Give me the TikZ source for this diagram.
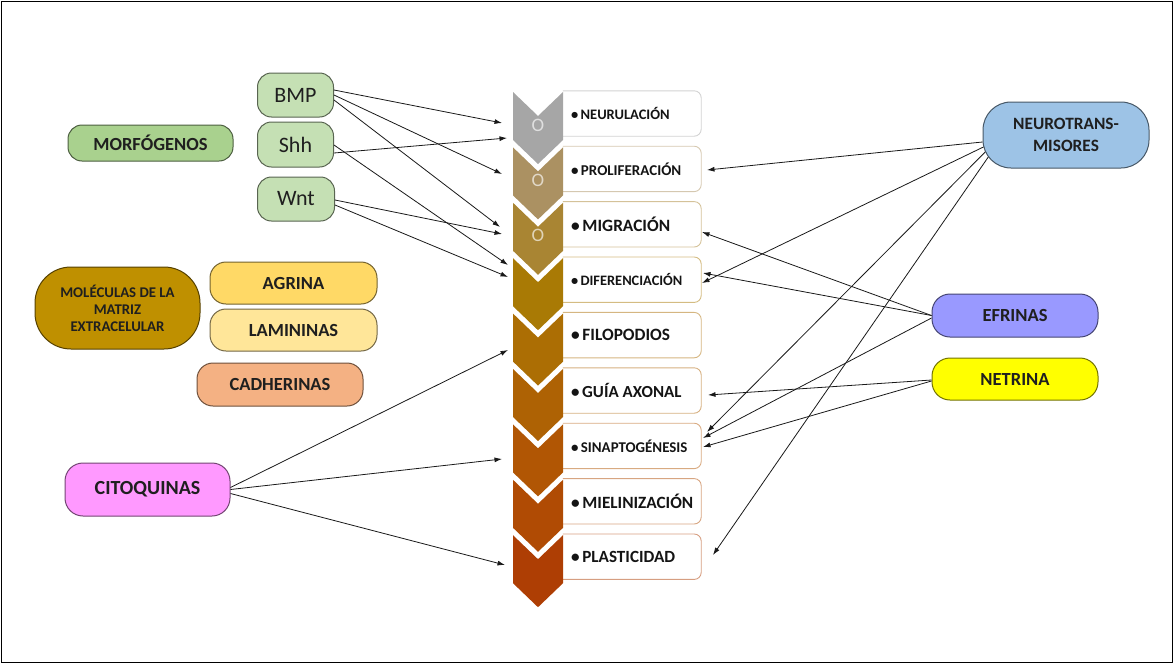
\documentclass[tikz,border=0pt]{standalone}
\usepackage{fontspec}
\setmainfont{Carlito}
\usetikzlibrary{arrows.meta,calc}

% stage colours, grey through gold to rust
\definecolor{c0}{HTML}{A6A6A6}
\definecolor{c1}{HTML}{AB9162}
\definecolor{c2}{HTML}{A98533}
\definecolor{c3}{HTML}{A97A05}
\definecolor{c4}{HTML}{AC6E04}
\definecolor{c5}{HTML}{AE6204}
\definecolor{c6}{HTML}{B15604}
\definecolor{c7}{HTML}{B04B04}
\definecolor{c8}{HTML}{AE3E04}
% factor colours
\definecolor{morf}{HTML}{A9D18E}
\definecolor{morfl}{HTML}{C5E0B4}
\definecolor{matriz}{HTML}{BF9000}
\definecolor{agrina}{HTML}{FFD966}
\definecolor{laminina}{HTML}{FFE699}
\definecolor{cadherina}{HTML}{F4B183}
\definecolor{cito}{HTML}{FF99FF}
\definecolor{neuro}{HTML}{9DC3E6}
\definecolor{efrina}{HTML}{9999FF}
\definecolor{netrina}{HTML}{FFFF00}

\tikzset{
  factor/.style={draw=#1!45!black, fill=#1, line width=1pt, inner sep=0pt,
    align=center, text=black!88},
  bigtxt/.style={font=\bfseries\fontsize{18.5}{22}\selectfont},
  listbox/.style={minimum width=138pt, minimum height=45pt, inner sep=0pt},
  link/.style={draw=black!90, line width=0.8pt, -{Latex[length=7.5pt,width=5pt]}},
}

\begin{document}
\begin{tikzpicture}[x=1pt,y=-1pt]
\useasboundingbox (0,0) rectangle (1174,664);
\draw[line width=1.2pt] (1.5,1.5) rectangle (1172.5,662.5);

% ---- stage list: chevrons with their boxes
\foreach \i/\col/\lab/\sz in {
  0/c0/NEURULACIÓN/14.5,
  1/c1/PROLIFERACIÓN/15,
  2/c2/MIGRACIÓN/17.3,
  3/c3/DIFERENCIACIÓN/14.4,
  4/c4/FILOPODIOS/17.3,
  5/c5/GUÍA AXONAL/16.9,
  6/c6/SINAPTOGÉNESIS/14.9,
  7/c7/MIELINIZACIÓN/17.2,
  8/c8/PLASTICIDAD/17.1}{
  \pgfmathsetmacro\t{92+55.4*\i}
  \node[listbox] (b\i) at (632,\t+21.5) {};
  \draw[draw=\col!50!white, line width=0.9pt, rounded corners=7pt]
    (b\i.north west) -- (b\i.north east) -- (b\i.south east) -- (b\i.south west);
  \node[anchor=west, inner sep=0pt, text=black!92,
        font=\bfseries\fontsize{\sz}{\sz}\selectfont] (t\i)
        at ([xshift=8pt]b\i.west) {•\,\lab};
  \fill[\col] (513,\t) -- (538,\t+24) -- (563,\t) -- (563,\t+48)
              -- (538,\t+72) -- (513,\t+48) -- cycle;
}
\foreach \i in {0,1,2}
  \node[text=white, text opacity=0.65, font=\fontsize{19}{19}\selectfont, inner sep=0pt]
    (o\i) at (538,{92+55.4*\i+33}) {O};

% ---- factors, left side
\node[factor=morf, bigtxt, minimum width=165pt, minimum height=36pt, rounded corners=14pt]
  (morfogenos) at (150.5,143) {MORFÓGENOS};
\node[factor=morfl, font=\fontsize{22}{22}\selectfont, minimum width=76pt, minimum height=44pt, rounded corners=14pt]
  (bmp) at (295.5,95) {BMP};
\node[factor=morfl, font=\fontsize{22}{22}\selectfont, minimum width=76pt, minimum height=45pt, rounded corners=14pt]
  (shh) at (295.5,144.5) {Shh};
\node[factor=morfl, font=\fontsize{22}{22}\selectfont, minimum width=77pt, minimum height=44pt, rounded corners=14pt]
  (wnt) at (296,199) {Wnt};
\node[factor=matriz, font=\bfseries\fontsize{14.8}{17}\selectfont, minimum width=165pt, minimum height=82pt, rounded corners=36pt]
  (matriz) at (117.5,308) {MOLÉCULAS DE LA\\MATRIZ\\EXTRACELULAR};
\node[factor=agrina, bigtxt, minimum width=167pt, minimum height=42pt, rounded corners=16pt]
  (agrina) at (293.5,283) {AGRINA};
\node[factor=laminina, bigtxt, minimum width=167pt, minimum height=42pt, rounded corners=16pt]
  (lamininas) at (293.5,330) {LAMININAS};
\node[factor=cadherina, bigtxt, minimum width=166pt, minimum height=43pt, rounded corners=16pt]
  (cadherinas) at (280,384.5) {CADHERINAS};
\node[factor=cito, font=\bfseries\fontsize{20}{22}\selectfont, minimum width=165pt, minimum height=53pt, rounded corners=18pt]
  (citoquinas) at (147.5,489.5) {CITOQUINAS};

% ---- factors, right side
\node[factor=neuro, font=\bfseries\fontsize{17.3}{21.7}\selectfont, minimum width=166pt, minimum height=66pt, rounded corners=28pt]
  (neurotrans) at (1066,135) {NEUROTRANS-\\MISORES};
\node[factor=efrina, bigtxt, minimum width=166pt, minimum height=43pt, rounded corners=18pt]
  (efrinas) at (1015,315.5) {EFRINAS};
\node[factor=netrina, bigtxt, minimum width=166pt, minimum height=42pt, rounded corners=18pt]
  (netrina) at (1015,379) {NETRINA};

% ---- arrow heads beside the stages
\coordinate (l-neu1) at (502,123);
\coordinate (l-neu2) at (507,138);
\coordinate (l-pro)  at (502,174);
\coordinate (l-mig1) at (500,227);
\coordinate (l-mig2) at (502,234);
\coordinate (l-dif1) at (508,265);
\coordinate (l-dif2) at (508,277);
\coordinate (l-fil)  at (508,350);
\coordinate (l-sin)  at (502,459);
\coordinate (l-pla)  at (505,565);
\coordinate (r-pro)  at (707,170);
\coordinate (r-mig)  at (702,232);
\coordinate (r-dif1) at (703,273);
\coordinate (r-dif2) at (702,283);
\coordinate (r-gui)  at (708,395);
\coordinate (r-sin1) at (707,432);
\coordinate (r-sin2) at (703,438);
\coordinate (r-sin3) at (703,447);
\coordinate (r-pla)  at (713,555);

% ---- connectors
\draw[link] ([yshift=5pt]bmp.east) -- (l-neu1);
\draw[link] (bmp.east) -- (l-pro);
\draw[link] ([yshift=-5pt]bmp.east) -- (l-mig1);
\draw[link] ([yshift=-8.5pt]shh.east) -- (l-neu2);
\draw[link] ([yshift=-0.5pt]shh.east) -- (l-dif1);
\draw[link] ([yshift=-1pt]wnt.east) -- (l-mig2);
\draw[link] ([yshift=-6pt]wnt.east) -- (l-dif2);

\draw[link] ([yshift=2pt]citoquinas.east) -- (l-fil);
\draw[link] ([yshift=0pt]citoquinas.east) -- (l-sin);
\draw[link] ([yshift=-4pt]citoquinas.east) -- (l-pla);

\draw[link] ([yshift=-7pt]neurotrans.west) -- (r-pro);
\draw[link] ([xshift=0.9pt,yshift=-12pt]neurotrans.west) -- (r-dif2);
\draw[link] ([xshift=2.7pt,yshift=-17pt]neurotrans.west) -- (r-sin1);
\draw[link] ([xshift=5.8pt,yshift=-22pt]neurotrans.west) -- (r-pla);

\draw[link] (efrinas.west) -- (r-mig);
\draw[link] (efrinas.west) -- (r-dif1);
\draw[link] ([yshift=-2.5pt]efrinas.west) -- (r-sin2);

\draw[link] ([yshift=-1pt]netrina.west) -- (r-gui);
\draw[link] ([yshift=-2pt]netrina.west) -- (r-sin3);
\end{tikzpicture}
\end{document}
